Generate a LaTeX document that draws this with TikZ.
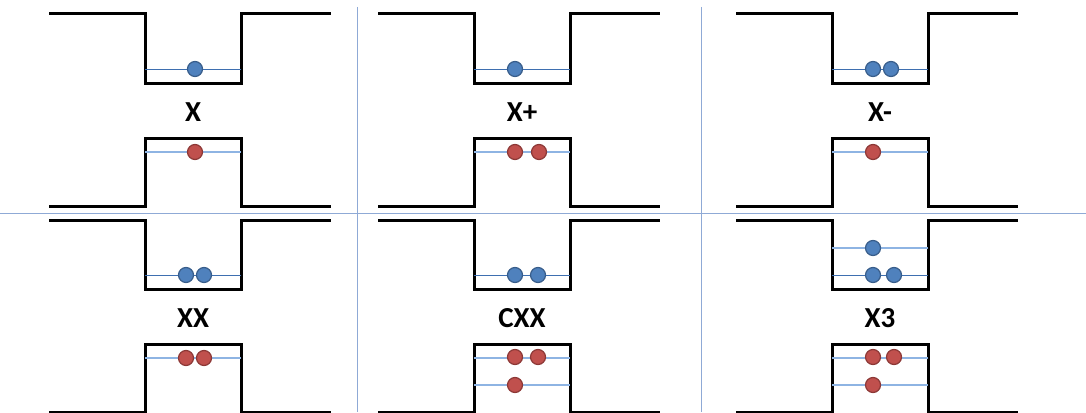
\documentclass[tikz,border=0pt]{standalone}
\usepackage{fontspec}
\setmainfont{Carlito}
\definecolor{eblue}{HTML}{4F81BD}
\definecolor{eborder}{HTML}{385D8A}
\definecolor{hred}{HTML}{C0504D}
\definecolor{hborder}{HTML}{8C3836}
\definecolor{lvlone}{HTML}{3E6FB0}
\definecolor{lvltwo}{HTML}{8EB4E3}
\definecolor{sepline}{HTML}{8FAAD6}
\tikzset{
  band/.style={line width=3pt,line join=miter},
  elvl/.style={lvlone,line width=1pt},
  hlvl/.style={lvltwo,line width=1.2pt},
  elec/.style={circle,fill=eblue,draw=eborder,line width=1.2pt,inner sep=0pt,minimum size=15pt},
  hole/.style={circle,fill=hred,draw=hborder,line width=1.2pt,inner sep=0pt,minimum size=15pt},
  tag/.style={font=\fontsize{29}{33}\selectfont\bfseries}
}
\begin{document}
\begin{tikzpicture}[x=1pt,y=-1pt]
  \useasboundingbox (0,0) rectangle (1086,412);
  % separators
  \draw[sepline,line width=1pt] (357,7) -- (357,412) (701,7) -- (701,412)
    (0,213) -- (1086,213);
  % band profiles and labels
  \foreach \w/\t/\name/\lab in {145/14/x/X,474/14/xp/X+,832/14/xm/X-,
      145/220/xx/XX,474/220/cxx/CXX,832/220/xt/X3}{
    \draw[band] (\w-96,\t) -| (\w,\t+69) -| (\w+96,\t) -- (\w+186,\t);
    \draw[band] (\w-96,\t+192) -| (\w,\t+124) -| (\w+96,\t+192) -- (\w+186,\t+192);
    \node[tag] (\name) at (\w+48,\t+98) {\lab};
  }
  % levels
  \foreach \w/\t in {145/14,474/14,832/14,145/220,474/220,832/220}{
    \draw[elvl] (\w,\t+55) -- (\w+96,\t+55);
    \draw[hlvl] (\w,\t+138) -- (\w+96,\t+138);
  }
  \draw[hlvl] (832,248) -- (928,248);
  \draw[hlvl] (474,385) -- (570,385) (832,385) -- (928,385);
  % X
  \node[elec] (xe) at (195,69) {};
  \node[hole] (xh) at (195,152) {};
  % X+
  \node[elec] (xpe) at (515,69) {};
  \node[hole] (xph1) at (515,152) {};
  \node[hole] (xph2) at (539,152) {};
  % X-
  \node[elec] (xme1) at (873,69) {};
  \node[elec] (xme2) at (891,69) {};
  \node[hole] (xmh) at (873,152) {};
  % XX
  \node[elec] (xxe1) at (186,275) {};
  \node[elec] (xxe2) at (204,275) {};
  \node[hole] (xxh1) at (186,358) {};
  \node[hole] (xxh2) at (204,358) {};
  % CXX
  \node[elec] (cxxe1) at (515,275) {};
  \node[elec] (cxxe2) at (538,275) {};
  \node[hole] (cxxh1) at (515,357) {};
  \node[hole] (cxxh2) at (538,357) {};
  \node[hole] (cxxh3) at (515,385) {};
  % X3
  \node[elec] (xte1) at (873,275) {};
  \node[elec] (xte2) at (894,275) {};
  \node[elec] (xte3) at (873,248) {};
  \node[hole] (xth1) at (873,357) {};
  \node[hole] (xth2) at (894,357) {};
  \node[hole] (xth3) at (873,385) {};
\end{tikzpicture}
\end{document}
